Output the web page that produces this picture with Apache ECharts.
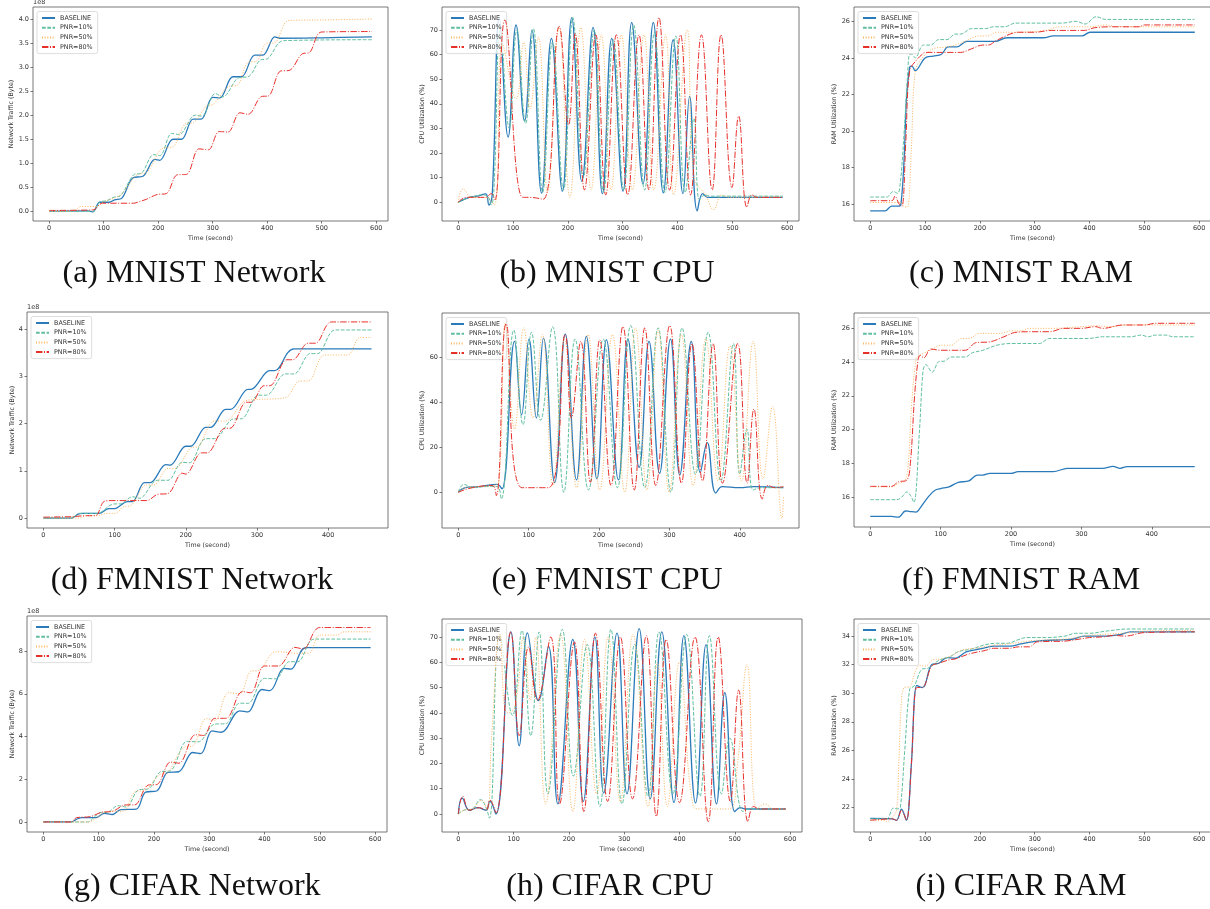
<!DOCTYPE html>
<html>
<head>
<meta charset="utf-8">
<script src="https://cdn.jsdelivr.net/npm/echarts@6/dist/echarts.min.js"></script>
<style>
html, body { margin: 0; padding: 0; background: #fff; }
#main { width: 1210px; height: 909px; }
</style>
</head>
<body>
<div id="main"></div>
<script>
var seriesNames = ['BASELINE', 'PNR=10%', 'PNR=50%', 'PNR=80%'];
var lineColors = ['#2b7bba', '#5fbf9f', '#fdb45e', '#e8302a'];

var xTicks600 = [0, 100, 200, 300, 400, 500, 600];
var xTicks400 = [0, 100, 200, 300, 400];
var mnistNetTicks = [0, 0.5, 1, 1.5, 2, 2.5, 3, 3.5, 4];
var fmnistNetTicks = [0, 1, 2, 3, 4];
var cifarNetTicks = [0, 2, 4, 6, 8];
var cpu70Ticks = [0, 10, 20, 30, 40, 50, 60, 70];
var cpu60Ticks = [0, 20, 40, 60];
var ramTicks = [16, 18, 20, 22, 24, 26];
var cifarRamTicks = [22, 24, 26, 28, 30, 32, 34];

// (a) MNIST network, 1e8 byte
var mnistNetBase = [[0,0],[70,0.01],[80,-0.01],[93,0.19],[110,0.19],[120,0.24],[133,0.27],[154,0.7],[172,0.73],[194,1.08],[203,1.06],[227,1.5],[243,1.5],[264,1.92],[279,1.92],[300,2.37],[313,2.36],[337,2.8],[353,2.8],[377,3.25],[392,3.25],[414,3.63],[423,3.6],[500,3.61],[592,3.63]];
var mnistNet10 = [[0,0],[80,0],[93,0.2],[105,0.22],[120,0.3],[130,0.32],[155,0.76],[170,0.8],[192,1.18],[203,1.16],[225,1.62],[238,1.6],[268,2.0],[280,1.98],[305,2.45],[318,2.38],[348,2.78],[365,2.8],[388,3.15],[400,3.17],[430,3.55],[592,3.57]];
var mnistNet50 = [[0,0],[45,0.01],[58,0.1],[85,0.1],[100,0.2],[120,0.28],[135,0.38],[160,0.75],[180,0.82],[210,1.32],[225,1.33],[250,1.82],[265,1.85],[290,2.2],[300,2.22],[330,2.6],[345,2.62],[365,3.1],[380,3.12],[400,3.5],[412,3.5],[440,3.97],[500,3.98],[592,4.0]];
var mnistNet80 = [[0,0.02],[80,0.03],[98,0.17],[155,0.17],[165,0.2],[178,0.25],[198,0.35],[215,0.37],[235,0.76],[252,0.77],[275,1.3],[292,1.28],[312,1.66],[328,1.65],[350,2.05],[365,2.02],[390,2.39],[402,2.4],[425,2.92],[440,2.93],[465,3.28],[477,3.3],[500,3.73],[592,3.74]];

// (b) MNIST CPU %
var mnistCpuBase = [[0,0],[20,2],[35,2.5],[50,3.4],[56,-1.1],[62,3],[75,75],[91,26.5],[105.5,72],[121,33],[134.5,70],[152,3.7],[170,66.5],[190,4.5],[207,75],[225.5,8.5],[246,71],[263,3.5],[280,66.5],[300.6,4.5],[316.4,73],[337,7.5],[355.8,73],[374,3.8],[392,66],[410,3.5],[422,43],[436,-3.5],[446,3.5],[455,2],[500,2],[592,2]];
var mnistCpu10 = [[0,0],[15,1.5],[30,2.5],[45,3],[55,2],[60,-1],[65,5],[77,70],[93,30],[107,70],[123,32],[137,70.5],[154,4],[172,65],[192,5],[209,75],[228,10],[248,70],[265,4],[283,66],[302,5],[320,72],[340,5],[358,69],[377,4],[397,67.5],[414,4],[430,34],[440,1],[450,3],[460,2.5],[592,2.5]];
var mnistCpu50 = [[0,0],[9,5.4],[25,2],[50,2],[66,-1],[81,64],[105.5,42],[119.4,65],[131,38],[146,67],[163,4],[184,71],[203.6,2],[223.6,71],[242.4,5],[261,68],[278.8,5],[297.6,68],[317.6,5],[338.8,68],[357,5],[378.2,68],[393,3],[417.6,70],[430,10],[451,3],[466,-3],[481,3],[495,2],[592,2]];
var mnistCpu80 = [[0,0],[15,2],[50,2],[60,3.5],[67,1],[85,74],[117.6,2],[130,2],[155,1.2],[184.3,71.4],[201.2,31.4],[213.3,68.6],[230.3,5],[250.9,68],[269.1,3],[288.5,68],[309.1,3],[329.7,68],[347.9,5],[366.1,75],[385.5,5],[405.5,68],[423.7,3],[443.7,68],[463.1,5],[479.4,68],[499.4,6],[511.5,35],[526.7,-2],[535.8,3],[545,2],[592,2]];

// (c) MNIST RAM %
var mnistRamBase = [[0,15.64],[27,15.64],[39,15.9],[51,15.9],[56,16.0],[62,18.6],[66,21.7],[72,23.5],[76,23.55],[82,23.3],[100,24.0],[115,24.1],[130,24.2],[142,24.6],[158,24.6],[176,24.9],[228,24.9],[249,25.1],[316,25.1],[334,25.2],[386,25.2],[401,25.4],[592,25.4]];
var mnistRam10 = [[0,16.4],[30,16.4],[42,16.7],[50,16.6],[55,17.2],[62,20],[68,23],[72,24.2],[76,24.2],[82,24.0],[97,24.7],[110,24.7],[125,25.0],[140,25.0],[155,25.3],[165,25.3],[185,25.6],[210,25.6],[225,25.7],[245,25.7],[265,25.9],[350,25.9],[375,26.0],[392,25.85],[412,26.25],[430,26.1],[592,26.1]];
var mnistRam50 = [[0,16.1],[55,16.1],[63,15.85],[68,15.85],[75,19],[82,23.25],[95,24.0],[115,24.5],[140,24.6],[165,24.8],[200,25.2],[215,25.2],[230,25.4],[260,25.4],[320,25.5],[345,25.7],[400,25.7],[430,25.8],[450,25.7],[592,25.7]];
var mnistRam80 = [[0,16.2],[40,16.2],[45,16.45],[53,16.0],[58,15.9],[65,19.5],[72,23.3],[85,23.9],[95,24.2],[100,24.3],[165,24.3],[185,24.5],[205,24.7],[215,24.7],[230,24.95],[255,25.3],[270,25.4],[300,25.4],[330,25.5],[390,25.5],[410,25.65],[440,25.7],[490,25.7],[500,25.8],[592,25.8]];

// (d) FMNIST network, 1e8 byte
var fmnistNetBase = [[0,0],[40,0],[48,0.08],[55,0.1],[78,0.1],[92,0.2],[100,0.2],[118,0.35],[125,0.35],[142,0.75],[150,0.75],[172,1.13],[178,1.12],[200,1.52],[207,1.52],[228,1.92],[235,1.92],[256,2.3],[263,2.3],[286,2.72],[293,2.73],[318,3.12],[325,3.12],[352,3.58],[461,3.58]];
var fmnistNet10 = [[0,0],[40,0],[50,0.1],[75,0.1],[100,0.3],[108,0.3],[125,0.45],[135,0.42],[160,0.8],[175,0.8],[195,1.18],[205,1.17],[228,1.68],[240,1.68],[268,2.1],[278,2.1],[302,2.6],[313,2.6],[340,3.05],[352,3.05],[375,3.48],[385,3.48],[410,3.98],[461,3.98]];
var fmnistNet50 = [[0,0],[50,0],[60,0.05],[75,0.05],[90,0.1],[100,0.1],[115,0.25],[120,0.25],[145,0.7],[155,0.7],[175,1.05],[185,1.05],[210,1.5],[215,1.5],[240,2.05],[255,2.05],[280,2.45],[290,2.5],[340,2.55],[360,2.9],[372,2.9],[395,3.45],[427,3.45],[445,3.82],[461,3.82]];
var fmnistNet80 = [[0,0.02],[40,0.03],[60,0.05],[73,0.05],[85,0.35],[95,0.37],[145,0.37],[160,0.5],[175,0.52],[195,0.95],[200,0.93],[222,1.38],[230,1.38],[255,1.9],[262,1.9],[285,2.45],[292,2.45],[310,2.8],[318,2.8],[342,3.35],[350,3.35],[372,3.7],[382,3.7],[405,4.15],[461,4.15]];

// (e) FMNIST CPU %
var fmnistCpuBase = [[0,0],[10,2],[30,2.5],[55,3.5],[62,1.5],[80,67],[90,34.4],[100.5,68],[111,33],[121,68.4],[137,4.3],[152,70.2],[168,5.5],[182,69.2],[197,5.9],[210.5,67.7],[227.5,5.5],[241,68],[257,11],[271,67],[286,8.4],[301.5,68],[314.7,7.7],[331,67],[344,8.7],[353.6,22],[366,-0.4],[375,2.5],[400,2],[420,2.5],[462,2]];
var fmnistCpu10 = [[0,0],[8,3.5],[20,2],[40,2.5],[55,2.5],[61,-3],[79,72],[92,30],[104,71],[117,32],[134,73.5],[150,0],[166,68],[185,1],[206,68],[226,2],[245,74],[265,2],[284,73],[302,0],[318,73],[337,8],[355,71],[373,5],[391,66],[400,8],[410,28],[419,1],[430,2],[462,2]];
var fmnistCpu50 = [[0,0],[10,2],[30,2.5],[50,3],[58,5],[67,75],[80,28],[93,73],[106,33],[119.4,70],[134.6,3],[151,68],[168,2],[184.4,70],[201,1],[219,70],[236.5,0],[252,73],[268,1],[284,72],[299.6,0],[317,70],[333.7,3],[351.7,68],[369,5],[386,65],[402.4,5],[419,67],[433,6],[446.5,38],[460,-11.6],[462,-2]];
var fmnistCpu80 = [[0,0],[20,2],[48,3],[54,-1.5],[68,74.8],[90.5,2],[128,2],[152,70],[160.7,33],[174,67],[187.7,4.4],[201,67.7],[217,3],[234,73.6],[250,1],[265,73],[280.6,3],[300.5,74],[317,4],[332,66],[347,5],[362,66],[375.4,4],[397,66],[410.5,4],[420,37],[432,-3],[440,3],[450,2],[462,2.5]];

// (f) FMNIST RAM %
var fmnistRamBase = [[0,14.85],[30,14.85],[40,14.8],[50,15.17],[55,15.15],[65,15.1],[70,15.3],[83,16.04],[92,16.4],[100,16.5],[112,16.6],[125,16.87],[140,16.95],[152,17.3],[160,17.3],[170,17.4],[200,17.4],[210,17.5],[260,17.5],[280,17.7],[330,17.7],[345,17.82],[355,17.7],[365,17.8],[461,17.8]];
var fmnistRam10 = [[0,15.84],[38,15.84],[45,16.0],[52,16.3],[57,16.1],[62,15.68],[70,20],[75,23.5],[79,23.85],[88,23.4],[98,24.04],[105,24.05],[115,24.3],[135,24.3],[145,24.55],[160,24.7],[180,25.0],[200,25.1],[240,25.1],[255,25.4],[310,25.4],[330,25.5],[370,25.5],[385,25.6],[395,25.5],[405,25.6],[420,25.6],[430,25.5],[461,25.5]];
var fmnistRam50 = [[0,16.6],[30,16.6],[40,16.8],[50,17.0],[55,18.5],[58,21],[65,24.18],[70,24.4],[75,24.5],[90,24.8],[100,25.0],[115,25.0],[130,25.4],[140,25.4],[155,25.7],[185,25.7],[200,25.85],[215,25.85],[225,26.0],[260,26.0],[300,26.1],[320,26.15],[340,26.1],[360,26.2],[461,26.2]];
var fmnistRam80 = [[0,16.63],[30,16.63],[40,16.9],[52,17.0],[57,18.0],[63,22],[68,24.14],[71,24.4],[76,24.25],[86,24.77],[100,24.7],[135,24.7],[150,25.15],[170,25.2],[190,25.5],[205,25.75],[225,25.8],[255,25.8],[275,26.0],[300,26.0],[320,26.1],[330,26.0],[360,26.2],[390,26.2],[405,26.3],[461,26.3]];

// (g) CIFAR network, 1e8 byte
var cifarNetBase = [[0,0],[50,0],[62,0.15],[70,0.2],[95,0.2],[110,0.4],[125,0.35],[140,0.58],[168,0.6],[185,1.4],[205,1.45],[225,2.32],[245,2.35],[270,3.25],[285,3.2],[305,4.26],[322,4.2],[355,5.2],[370,5.15],[395,6.2],[410,6.15],[435,7.19],[448,7.15],[475,8.16],[592,8.16]];
var cifarNet10 = [[0,0],[80,0],[95,0.3],[105,0.45],[115,0.45],[135,0.76],[150,0.7],[172,1.5],[190,1.55],[212,2.35],[230,2.4],[260,3.77],[280,3.75],[310,4.58],[330,4.6],[355,5.56],[370,5.55],[400,6.72],[420,6.7],[445,7.5],[460,7.5],[490,8.56],[592,8.56]];
var cifarNet50 = [[0,0],[80,0],[95,0.15],[110,0.45],[130,0.5],[145,0.5],[165,1.4],[185,1.5],[210,2.2],[225,2.3],[255,3.5],[270,3.55],[295,4.84],[310,4.75],[335,6.05],[355,6.0],[375,7.05],[390,7.1],[420,7.97],[435,7.95],[455,7.9],[480,7.9],[500,8.75],[530,8.75],[545,8.9],[592,8.9]];
var cifarNet80 = [[0,0],[50,0],[60,0.2],[85,0.25],[105,0.45],[125,0.5],[150,0.8],[165,0.8],[190,1.73],[205,1.75],[230,2.8],[245,2.75],[275,4.08],[290,4.05],[310,4.85],[330,4.85],[360,6.1],[375,6.05],[400,7.3],[425,7.3],[455,8.17],[470,8.1],[500,9.1],[592,9.1]];

// (h) CIFAR CPU %
var cifarCpuBase = [[0,0],[7,6.3],[20,1.5],[35,2.5],[50,1.5],[57,5],[68,0],[95,72],[110,27],[125,71.6],[145,44.8],[163,66.3],[180,4],[207,69],[226,5],[247,70],[263,8.3],[287,71.5],[305,8],[327,73.3],[347,6],[368,72],[390,4.6],[408,70.5],[429,4.4],[448,67],[467,4],[482,48],[500,1],[510,2.5],[520,2],[592,2]];
var cifarCpu10 = [[0,0],[10,1.5],[25,2],[40,5.7],[50,2.5],[56,-1.6],[75,71],[98,39],[115,72.5],[131,31],[146,72],[162,8],[188,73],[208,15],[233,67],[256,3],[276,73],[296,4],[319,67],[343,7],[363,72],[388,8],[413,71],[437,7],[454,70.5],[476,8],[491,30],[515,1],[525,2],[592,2]];
var cifarCpu50 = [[0,0],[10,1.5],[25,2],[42,5.5],[52,2],[60,30],[75,71],[88,40],[102,42],[118,70],[130,45],[140,70],[158,4],[185,71],[207,1],[228,69],[250,8],[271,70],[293,5],[316,71],[343,3],[360,60],[378,3],[400,60],[425,3],[440,2],[490,2],[505,20],[522,59],[540,2],[555,4],[570,2],[592,2]];
var cifarCpu80 = [[0,0],[8,7],[20,1.5],[38,2.5],[50,1.5],[57,5.5],[68,0.5],[95,72],[110,31],[127,66],[143,45],[167,70],[183,4],[210,68],[227,1],[248,71.5],[270,5],[293,70],[315,6],[340,70.5],[358,-1],[376,69],[400,4.5],[428,70],[452,-3],[470,70],[492,5],[507,49],[524,-3],[534,3],[545,2],[592,2]];

// (i) CIFAR RAM %
var cifarRamBase = [[0,21.23],[40,21.2],[48,21.1],[57,21.88],[66,21.1],[75,25],[85,30.55],[95,30.4],[100,30.6],[112,32.0],[125,32.1],[140,32.5],[155,32.45],[175,32.9],[200,33.1],[225,33.3],[255,33.3],[275,33.45],[295,33.6],[320,33.7],[355,33.75],[370,33.8],[390,34.0],[430,34.0],[455,34.1],[475,34.3],[592,34.3]];
var cifarRam10 = [[0,21.2],[30,21.2],[42,21.95],[50,21.9],[55,22.0],[63,26],[72,30.3],[80,30.5],[95,31.7],[105,31.75],[125,32.3],[145,32.55],[160,32.9],[185,33.1],[210,33.4],[230,33.5],[250,33.5],[270,33.75],[285,33.9],[320,33.9],[355,34.0],[375,34.2],[400,34.2],[430,34.35],[470,34.5],[592,34.5]];
var cifarRam50 = [[0,21.1],[25,21.1],[30,21.0],[40,21.3],[48,21.8],[52,25],[57,29.5],[62,30.4],[72,30.45],[82,31.5],[90,31.95],[100,31.9],[115,32.35],[130,32.4],[150,32.65],[165,33.0],[200,33.2],[225,33.35],[250,33.45],[270,33.55],[300,33.7],[340,33.75],[370,33.85],[400,34.05],[460,34.2],[500,34.35],[592,34.4]];
var cifarRam80 = [[0,21.1],[40,21.2],[48,21.1],[57,21.8],[66,21.1],[75,25],[85,30.4],[95,30.4],[112,31.9],[125,32.1],[145,32.35],[155,32.4],[180,32.75],[210,33.0],[225,33.15],[255,33.15],[270,33.25],[290,33.25],[305,33.6],[355,33.65],[375,33.75],[400,33.9],[425,33.95],[445,34.05],[465,34.0],[500,34.25],[592,34.3]];

(function () {
    var lineDash = ['solid', [3.7, 1.6], [1, 1.65], [6.4, 1.6, 1, 1.6]];
    var lineWidths = [1.3, 1, 1, 1];
    var tickFont = 'DejaVu Sans';
    var textColor = '#333';
    var frameColor = '#555';

    var netLabel = 'Network Traffic (Byte)', cpuLabel = 'CPU Utilization (%)', ramLabel = 'RAM Utilization (%)';
    var x600 = [-29.6, 621.6], x460 = [-23.1, 484.1];

    var panels = [
        { box: [33, 7, 355, 214], x: x600, y: [-0.2, 4.25], xt: xTicks600, yt: mnistNetTicks, dec: 1, name: netLabel, gap: 18, exp: true, smooth: 0.35,
          cap: '(a) MNIST Network', cx: 194, cy: 274, data: [mnistNetBase, mnistNet10, mnistNet50, mnistNet80] },
        { box: [442, 7, 357, 214], x: x600, y: [-7.6, 79.3], xt: xTicks600, yt: cpu70Ticks, dec: 0, name: cpuLabel, gap: 15, smooth: 0.45,
          cap: '(b) MNIST CPU', cx: 607, cy: 274, data: [mnistCpuBase, mnistCpu10, mnistCpu50, mnistCpu80] },
        { box: [854, 7, 357, 214], x: x600, y: [15.09, 26.78], xt: xTicks600, yt: ramTicks, dec: 0, name: ramLabel, gap: 15, smooth: 0.35,
          cap: '(c) MNIST RAM', cx: 1021, cy: 274, data: [mnistRamBase, mnistRam10, mnistRam50, mnistRam80] },
        { box: [27, 312, 361, 216], x: x460, y: [-0.21, 4.36], xt: xTicks400, yt: fmnistNetTicks, dec: 0, name: netLabel, gap: 11, exp: true, smooth: 0.35,
          cap: '(d) FMNIST Network', cx: 192, cy: 581, data: [fmnistNetBase, fmnistNet10, fmnistNet50, fmnistNet80] },
        { box: [442, 313, 357, 215], x: x460, y: [-15.9, 79.6], xt: xTicks400, yt: cpu60Ticks, dec: 0, name: cpuLabel, gap: 15, smooth: 0.45,
          cap: '(e) FMNIST CPU', cx: 607, cy: 581, data: [fmnistCpuBase, fmnistCpu10, fmnistCpu50, fmnistCpu80] },
        { box: [854, 313, 357, 214], x: x460, y: [14.22, 26.91], xt: xTicks400, yt: ramTicks, dec: 0, name: ramLabel, gap: 15, smooth: 0.35,
          cap: '(f) FMNIST RAM', cx: 1021, cy: 581, data: [fmnistRamBase, fmnistRam10, fmnistRam50, fmnistRam80] },
        { box: [27, 616, 360, 216], x: x600, y: [-0.47, 9.64], xt: xTicks600, yt: cifarNetTicks, dec: 0, name: netLabel, gap: 11, exp: true, smooth: 0.35,
          cap: '(g) CIFAR Network', cx: 192, cy: 887, data: [cifarNetBase, cifarNet10, cifarNet50, cifarNet80] },
        { box: [442, 619, 360, 213], x: x600, y: [-7.1, 77.1], xt: xTicks600, yt: cpu70Ticks, dec: 0, name: cpuLabel, gap: 15, smooth: 0.45,
          cap: '(h) CIFAR CPU', cx: 610, cy: 887, data: [cifarCpuBase, cifarCpu10, cifarCpu50, cifarCpu80] },
        { box: [854, 619, 357, 213], x: x600, y: [20.28, 35.2], xt: xTicks600, yt: cifarRamTicks, dec: 0, name: ramLabel, gap: 15, smooth: 0.35,
          cap: '(i) CIFAR RAM', cx: 1021, cy: 887, data: [cifarRamBase, cifarRam10, cifarRam50, cifarRam80] }
    ];

    var option = {
        animation: false,
        backgroundColor: '#fff',
        grid: [], xAxis: [], yAxis: [], legend: [], series: [], graphic: []
    };

    panels.forEach(function (p, i) {
        option.grid.push({
            left: p.box[0], top: p.box[1], width: p.box[2], height: p.box[3],
            show: true, borderColor: frameColor, borderWidth: 0.8, backgroundColor: 'transparent',
            containLabel: false, outerBoundsMode: 'none'
        });
        option.xAxis.push({
            type: 'value', gridIndex: i, min: p.x[0], max: p.x[1],
            name: 'Time (second)', nameLocation: 'middle', nameGap: 14,
            nameTextStyle: { fontSize: 6.3, color: textColor, fontFamily: tickFont },
            axisLine: { show: false, onZero: false },
            axisTick: { show: true, length: 2.5, customValues: p.xt, lineStyle: { color: frameColor, width: 0.8 } },
            axisLabel: { customValues: p.xt, margin: 4, fontSize: 6.5, color: textColor, fontFamily: tickFont },
            splitLine: { show: false }
        });
        option.yAxis.push({
            type: 'value', gridIndex: i, min: p.y[0], max: p.y[1],
            name: p.name, nameLocation: 'middle', nameGap: p.gap, nameRotate: 90,
            nameTextStyle: { fontSize: 6.3, color: textColor, fontFamily: tickFont },
            axisLine: { show: false, onZero: false },
            axisTick: { show: true, length: 2.5, customValues: p.yt, lineStyle: { color: frameColor, width: 0.8 } },
            axisLabel: {
                customValues: p.yt, margin: 4, fontSize: 6.5, color: textColor, fontFamily: tickFont,
                formatter: function (v) { return Number(v).toFixed(p.dec); }
            },
            splitLine: { show: false }
        });
        // legend sample = line only, the symbol is hidden
        option.legend.push({
            data: seriesNames, orient: 'vertical', selectedMode: false,
            left: p.box[0] + 4, top: p.box[1] + 4.5,
            itemWidth: 13, itemHeight: 6, itemGap: 2.7,
            padding: [3, 5, 3, 4],
            itemStyle: { opacity: 0, borderWidth: 0 },
            borderColor: '#d4d4d4', borderWidth: 0.8, borderRadius: 2,
            backgroundColor: 'rgba(255,255,255,0.8)',
            textStyle: { fontSize: 6.4, color: textColor, fontFamily: tickFont, lineHeight: 7 }
        });
        p.data.forEach(function (d, k) {
            option.series.push({
                name: seriesNames[k], type: 'line', xAxisIndex: i, yAxisIndex: i,
                data: d, symbol: 'none', smooth: p.smooth, silent: true,
                color: lineColors[k],
                lineStyle: { color: lineColors[k], width: lineWidths[k], type: lineDash[k] },
                z: 2 + k
            });
        });
        if (p.exp) {
            option.graphic.push({
                type: 'text', x: p.box[0], y: p.box[1] - 1,
                style: { text: '1e8', font: '6.5px "DejaVu Sans"', fill: textColor, align: 'left', verticalAlign: 'bottom' }
            });
        }
        option.graphic.push({
            type: 'text', x: p.cx, y: p.cy,
            style: { text: p.cap, font: '32px "Liberation Serif"', fill: '#111', align: 'center', verticalAlign: 'middle' }
        });
    });

    var chart = echarts.init(document.getElementById('main'), null, { renderer: 'canvas' });
    chart.setOption(option);
})();
</script>
</body>
</html>
